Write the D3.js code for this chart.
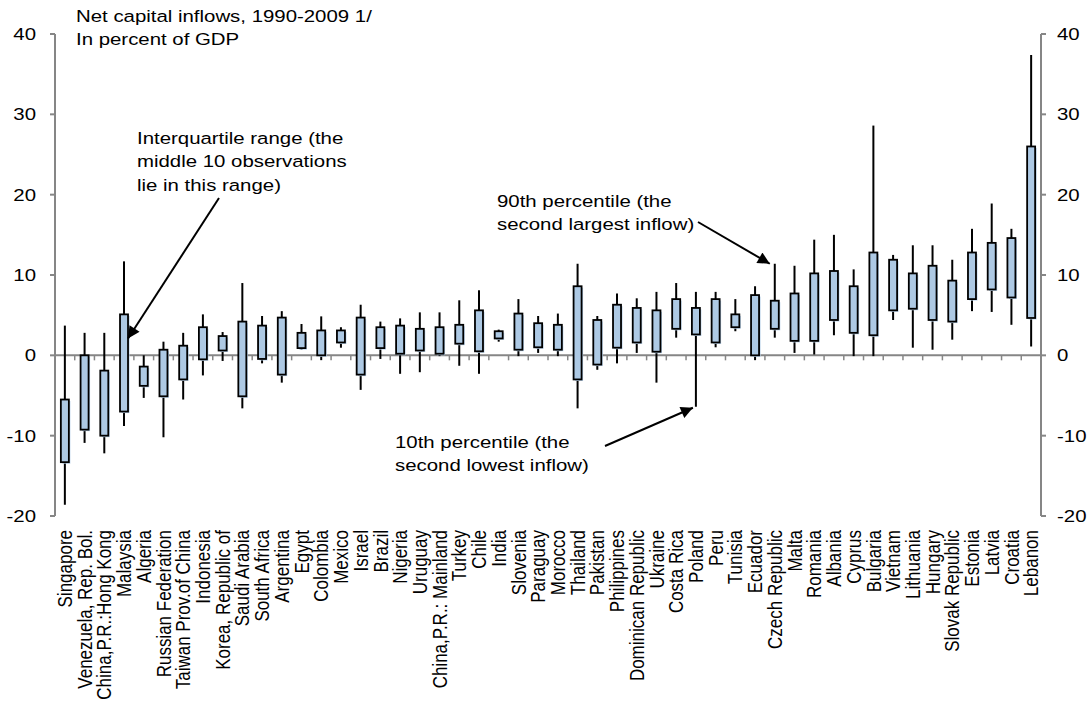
<!DOCTYPE html>
<html>
<head>
<meta charset="utf-8">
<script src="https://cdn.jsdelivr.net/npm/d3@7"></script>
<style>
	body { margin: 0; background: #fff; }
	svg text { font-family: "Liberation Sans", Arial, sans-serif; fill: #000; }
</style>
</head>
<body>
<svg id="svg" width="1092" height="706"></svg>
<script>

// net capital inflows, percent of GDP, 1990-2009
var countries = ["Singapore", "Venezuela,  Rep. Bol.", "China,P.R.:Hong Kong", "Malaysia", "Algeria",
	"Russian Federation", "Taiwan Prov.of China", "Indonesia", "Korea, Republic of", "Saudi Arabia",
	"South Africa", "Argentina", "Egypt", "Colombia", "Mexico", "Israel", "Brazil", "Nigeria", "Uruguay",
	"China,P.R.: Mainland", "Turkey", "Chile", "India", "Slovenia", "Paraguay", "Morocco", "Thailand",
	"Pakistan", "Philippines", "Dominican Republic", "Ukraine", "Costa Rica", "Poland", "Peru", "Tunisia",
	"Ecuador", "Czech Republic", "Malta", "Romania", "Albania", "Cyprus", "Bulgaria", "Vietnam",
	"Lithuania", "Hungary", "Slovak Republic", "Estonia", "Latvia", "Croatia", "Lebanon"];

// 90th percentile (second largest)
var p90 = [3.7, 2.8, 2.8, 11.7, 0.0, 1.7, 2.8, 5.1, 2.9, 9.0,
	4.9, 5.5, 3.9, 4.85, 3.5, 6.3, 4.2, 4.6, 5.35, 5.35,
	6.85, 8.1, 3.2, 7.0, 4.9, 5.2, 11.4, 4.9, 7.7, 7.1,
	7.9, 9.0, 7.9, 7.9, 7.0, 8.6, 11.4, 11.15, 14.4, 15.0,
	10.7, 28.6, 12.5, 13.7, 13.7, 11.9, 15.75, 18.9, 15.75, 37.4];
// upper quartile
var q3 = [-5.5, 0.0, -1.9, 5.1, -1.4, 0.7, 1.2, 3.5, 2.4, 4.2,
	3.7, 4.7, 2.8, 3.1, 3.1, 4.7, 3.5, 3.7, 3.3, 3.5,
	3.8, 5.6, 3.0, 5.2, 4.0, 3.8, 8.6, 4.4, 6.3, 5.9,
	5.6, 7.0, 5.9, 7.0, 5.1, 7.5, 6.8, 7.7, 10.2, 10.5,
	8.6, 12.8, 11.9, 10.2, 11.15, 9.3, 12.8, 14.0, 14.6, 26.0];
// lower quartile
var q1 = [-13.3, -9.25, -10.0, -7.0, -3.8, -5.1, -3.0, -0.5, 0.6, -5.1,
	-0.45, -2.4, 0.9, 0.0, 1.6, -2.4, 0.9, 0.2, 0.6, 0.2,
	1.45, 0.5, 2.1, 0.7, 1.0, 0.7, -3.0, -1.15, 0.95, 1.6,
	0.45, 3.3, 2.6, 1.6, 3.5, 0.0, 3.3, 1.8, 1.8, 4.4,
	2.8, 2.5, 5.6, 5.8, 4.4, 4.2, 7.0, 8.2, 7.2, 4.65];
// 10th percentile (second lowest)
var p10 = [-18.6, -10.9, -12.2, -8.8, -5.3, -10.2, -5.5, -2.5, -0.7, -6.6,
	-1.0, -3.4, 0.7, -0.6, 0.95, -4.3, -0.45, -2.3, -2.1, -0.1,
	-1.3, -2.3, 1.7, -0.1, 0.3, -0.1, -6.6, -1.8, -1.0, 0.3,
	-3.4, 2.2, -6.4, 1.0, 3.0, -0.6, 2.2, 0.3, 0.1, 2.5,
	-0.1, -0.1, 4.4, 0.95, 0.7, 1.95, 5.5, 5.4, 3.8, 1.1];

var yTicks = [-20, -10, 0, 10, 20, 30, 40];

var svg = d3.select("svg");

var plotL = 55, plotR = 1041, plotT = 34, plotB = 516;
var sx = 1.2; // text is a bit wide in the original
var fs = "17px";
var axisColor = "#868686";

var x = d3.scaleBand().domain(countries).range([plotL, plotR]).padding(0);
var y = d3.scaleLinear().domain([-20, 40]).range([plotB, plotT]);

var data = countries.map(function (c, i) {
	return { name: c, p10: p10[i], q1: q1[i], q3: q3[i], p90: p90[i] };
});

function cx(name) { return x(name) + x.bandwidth() / 2; }

function addText(g, tx, ty, str, anchor, rot) {
	var t = g.append("text")
		.attr("transform", "translate(" + tx + "," + ty + ") scale(" + sx + ",1)" + (rot ? " rotate(" + rot + ")" : ""))
		.attr("text-anchor", anchor || "start")
		.style("font-size", fs)
		.text(str);
	return t;
}

// arrow head
svg.append("defs").append("marker")
	.attr("id", "arrow")
	.attr("viewBox", "0 0 10 10")
	.attr("refX", 10).attr("refY", 5)
	.attr("markerWidth", 16).attr("markerHeight", 12)
	.attr("markerUnits", "userSpaceOnUse")
	.attr("orient", "auto")
	.append("path")
	.attr("d", "M0,0 L10,5 L0,10 Z")
	.style("fill", "#000");

// axes
var axes = svg.append("g").style("stroke", axisColor).style("stroke-width", 2);
axes.append("line").attr("x1", plotL).attr("x2", plotL).attr("y1", plotT).attr("y2", plotB);
axes.append("line").attr("x1", plotR).attr("x2", plotR).attr("y1", plotT).attr("y2", plotB);
axes.selectAll("line.lt").data(yTicks).enter().append("line")
	.attr("x1", plotL - 5).attr("x2", plotL)
	.attr("y1", function (d) { return y(d); }).attr("y2", function (d) { return y(d); });
axes.selectAll("line.rt").data(yTicks).enter().append("line")
	.attr("x1", plotR).attr("x2", plotR + 5)
	.attr("y1", function (d) { return y(d); }).attr("y2", function (d) { return y(d); });
axes.append("line").attr("x1", plotL).attr("x2", plotR).attr("y1", y(0)).attr("y2", y(0));
axes.selectAll("line.xt").data(countries.slice(1)).enter().append("line")
	.attr("x1", function (d) { return x(d); }).attr("x2", function (d) { return x(d); })
	.attr("y1", y(0)).attr("y2", y(0) + 5)
	.style("stroke-width", 1.5);

var labels = svg.append("g");
yTicks.forEach(function (t) {
	addText(labels, 36, y(t), t, "end").attr("dy", "0.35em");
	addText(labels, 1057, y(t), t, "start").attr("dy", "0.35em");
});
countries.forEach(function (c) {
	addText(labels, cx(c), 530, c, "end", -90).attr("dy", "0.35em");
});

// whiskers
svg.append("g").selectAll("line").data(data).enter().append("line")
	.attr("x1", function (d) { return cx(d.name); })
	.attr("x2", function (d) { return cx(d.name); })
	.attr("y1", function (d) { return y(d.p90); })
	.attr("y2", function (d) { return y(d.p10); })
	.style("stroke", "#000").style("stroke-width", 2);

// boxes
var bw = 8;
var boxes = svg.append("g");
boxes.selectAll("rect.sh").data(data).enter().append("rect")
	.attr("x", function (d) { return cx(d.name) - bw / 2 + 1.5; })
	.attr("y", function (d) { return y(d.q3) + 1.5; })
	.attr("width", bw)
	.attr("height", function (d) { return y(d.q1) - y(d.q3); })
	.style("fill", "#b9d2ea");
boxes.selectAll("rect.bx").data(data).enter().append("rect")
	.attr("x", function (d) { return cx(d.name) - bw / 2; })
	.attr("y", function (d) { return y(d.q3); })
	.attr("width", bw)
	.attr("height", function (d) { return y(d.q1) - y(d.q3); })
	.style("fill", "#adc9e4")
	.style("stroke", "#000")
	.style("stroke-width", 1.8);

// title
var notes = svg.append("g");
addText(notes, 76, 22, "Net capital inflows, 1990-2009 1/");
addText(notes, 76, 45, "In percent of GDP");

// annotations
addText(notes, 137, 144, "Interquartile range (the");
addText(notes, 137, 167, "middle 10 observations");
addText(notes, 137, 191, "lie in this range)");

addText(notes, 497, 207, "90th percentile  (the");
addText(notes, 497, 230, "second largest inflow)");

addText(notes, 395, 448, "10th percentile  (the");
addText(notes, 395, 471, "second lowest inflow)");

var arrows = svg.append("g").style("stroke", "#000").style("stroke-width", 2);
arrows.append("line")
	.attr("x1", 219).attr("y1", 198)
	.attr("x2", cx("Malaysia") + 4).attr("y2", y(2.1))
	.attr("marker-end", "url(#arrow)");
arrows.append("line")
	.attr("x1", 698).attr("y1", 222)
	.attr("x2", cx("Czech Republic") - 5).attr("y2", y(p90[countries.indexOf("Czech Republic")]))
	.attr("marker-end", "url(#arrow)");
arrows.append("line")
	.attr("x1", 605).attr("y1", 446)
	.attr("x2", cx("Poland") - 3).attr("y2", y(p10[countries.indexOf("Poland")]) + 1)
	.attr("marker-end", "url(#arrow)");

</script>
</body>
</html>
